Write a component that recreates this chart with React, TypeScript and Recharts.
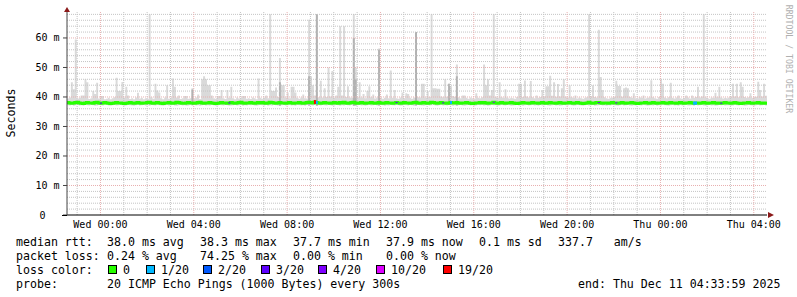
import React from 'react';
import { ComposedChart, Area, Line, XAxis, YAxis, ReferenceLine } from 'recharts';

// 5-minute slots, minutes since Tue 22:34 (chart start); end = Thu 04:34
const SLOT_MIN = 5;

const xTickMinutes = [86, 326, 566, 806, 1046, 1286, 1526, 1766];
const xTickLabels = ['Wed 00:00', 'Wed 04:00', 'Wed 08:00', 'Wed 12:00', 'Wed 16:00', 'Wed 20:00', 'Thu 00:00', 'Thu 04:00'];
const hourMinutes = [26, 86, 146, 206, 266, 326, 386, 446, 506, 566, 626, 686, 746, 806, 866, 926, 986, 1046, 1106, 1166, 1226, 1286, 1346, 1406, 1466, 1526, 1586, 1646, 1706, 1766];
const majorMinutes = [86, 326, 566, 806, 1046, 1286, 1526, 1766];
const yTickValues = [0, 10, 20, 30, 40, 50, 60];
const yTickLabels = ['0', '10 m', '20 m', '30 m', '40 m', '50 m', '60 m'];
const yMinorValues = [2, 4, 6, 8, 12, 14, 16, 18, 22, 24, 26, 28, 32, 34, 36, 38, 42, 44, 46, 48, 52, 54, 56, 58, 62, 64, 66, 68];

// highest ping per slot (ms)
const maxPing = [
  39.5, 39.8, 45, 42.6, 59.5, 39.4, 39.7, 40.5, 40.5, 46, 45, 39.3, 39.6, 42, 41, 44.8, 39.5, 40.3, 40.3, 39.2,
  39.4, 39.7, 39.2, 39.6, 39.9, 46.5, 42, 42, 45.1, 39.8, 43.5, 40.5, 39.3, 39.6, 39.2, 39.8, 41.4, 39.5, 39.7, 39.2,
  39.6, 39.3, 68, 39.9, 39.4, 44.5, 42.2, 41.5, 39.6, 39.2, 39.8, 44, 39.4, 39.7, 46.3, 43.5, 39.8, 40.5, 39.3, 39.6,
  40.3, 40.3, 39.4, 39.6, 43, 39.5, 39.8, 40.8, 39.3, 46, 47, 46, 44, 44, 40.5, 39.6, 39.4, 40.3, 40.3, 42.4,
  39.6, 39.3, 42.4, 39.7, 43.5, 39.6, 39.2, 39.8, 39.5, 39.7, 40.3, 40.3, 39.4, 39.6, 39.3, 39.8, 39.6, 39.2, 46.3, 39.7,
  39.4, 39.8, 40.5, 39.6, 68, 42, 42, 43.2, 40, 53.2, 44, 44, 39.8, 41.5, 39.6, 43.5, 43.5, 41.5, 39.7, 39.4,
  39.8, 40.8, 39.6, 39.5, 66.2, 47, 44, 40.5, 68, 39.9, 45.5, 39.8, 43, 40, 50, 40.2, 48.8, 39.8, 40.5, 43.5,
  64, 40.5, 64, 40, 43.6, 39.8, 39.7, 68, 50, 39.9, 45, 39.8, 41, 39.6, 42, 43.6, 39.9, 40.8, 39.5, 39.8,
  56.4, 39.8, 39.4, 39.7, 40.8, 39.6, 49, 39.7, 42.4, 39.6, 39.4, 39.8, 41.5, 39.6, 41.3, 41, 39.7, 39.4, 39.8, 62,
  39.9, 39.8, 44.5, 44.5, 39.8, 42, 40, 68, 43, 43, 42.8, 42.8, 40.2, 39.9, 46, 40.1, 44.5, 43.6, 40.3, 40.1,
  51, 39.9, 39.6, 40.5, 40.5, 39.7, 39.4, 39.8, 39.6, 39.4, 41.3, 39.7, 39.6, 39.9, 51, 44, 46, 40.5, 42.4, 68,
  40, 39.7, 45, 39.9, 39.7, 42.6, 39.8, 39.5, 39.7, 39.6, 39.4, 40, 44.5, 44.5, 40, 45.6, 40.2, 39.8, 45.4, 39.9,
  39.6, 40.5, 39.7, 40, 42.4, 40.2, 43.6, 43.6, 47.2, 40.4, 45, 40.1, 44.4, 40.2, 43, 46, 40.1, 39.8, 44, 39.9,
  39.7, 40.5, 39.5, 39.8, 39.6, 39.4, 39.7, 39.9, 68, 40.2, 44, 40, 39.8, 62.8, 46.8, 42.4, 39.9, 39.6, 39.4, 39.7,
  39.8, 40, 45.5, 43.7, 43.7, 40.1, 43, 43.2, 43, 40, 39.7, 41.3, 39.6, 39.4, 39.9, 39.7, 40.5, 39.5, 39.7, 39.8,
  45.7, 39.9, 39.6, 39.4, 40, 46, 44.5, 39.8, 39.6, 39.9, 44.8, 39.7, 39.5, 39.8, 40.5, 39.6, 39.4, 39.7, 40.5, 39.8,
  39.5, 40.5, 39.7, 40, 43.5, 39.8, 40.2, 68, 39.9, 39.6, 39.4, 39.8, 39.7, 41.4, 39.9, 43.5, 39.8, 39.5, 39.7, 39.6,
  39.8, 40, 44.5, 40.2, 44.5, 39.9, 45, 43.5, 40, 39.7, 39.9, 41.3, 39.7, 40, 40.1, 45.2, 42.4, 40.2, 44.5, 40.4,
];

// lowest ping per slot (ms)
const minPing = [
  37.2, 37.1, 37.3, 37.0, 37.2, 37.4, 37.1, 37.2, 37.0, 37.3, 37.2, 37.1, 37.4, 37.2, 37.0, 37.1, 37.3, 37.2, 37.1, 37.4,
  37.3, 37.1, 37.0, 37.2, 37.3, 37.1, 37.2, 37.4, 37.2, 37.0, 37.1, 37.3, 37.2, 37.1, 37.0, 37.2, 37.3, 37.1, 37.2, 37.4,
  37.1, 37.2, 37.0, 37.3, 37.2, 37.1, 37.4, 37.2, 37.1, 37.0, 37.2, 37.3, 37.1, 37.2, 37.4, 37.1, 37.0, 37.2, 37.3, 37.1,
  37.2, 37.0, 37.1, 37.3, 37.2, 37.4, 37.1, 37.2, 37.0, 37.2, 37.3, 37.1, 37.2, 37.1, 37.4, 37.2, 37.0, 37.1, 37.3, 37.2,
  37.1, 37.3, 37.2, 37.0, 37.1, 37.2, 37.4, 37.1, 37.2, 37.3, 37.0, 37.2, 37.1, 37.3, 37.2, 37.4, 37.1, 37.0, 37.2, 37.3,
  37.2, 37.1, 37.3, 37.0, 37.2, 37.1, 37.4, 37.2, 37.1, 37.0, 37.2, 37.3, 37.1, 37.2, 37.4, 37.1, 37.2, 37.0, 37.3, 37.2,
  37.1, 37.2, 37.0, 37.3, 37.1, 37.2, 37.1, 37.3, 37.0, 37.2, 37.1, 37.3, 37.2, 37.1, 37.4, 37.2, 37.0, 37.1, 37.3, 37.2,
  37.0, 37.2, 37.1, 37.3, 37.2, 37.1, 37.4, 37.0, 37.1, 37.2, 37.3, 37.1, 37.2, 37.0, 37.2, 37.3, 37.1, 37.2, 37.4, 37.1,
  37.1, 37.3, 37.2, 37.0, 37.2, 37.1, 37.3, 37.2, 37.1, 37.4, 37.2, 37.0, 37.1, 37.3, 37.2, 37.1, 37.4, 37.2, 37.0, 37.1,
  37.3, 37.2, 37.1, 37.0, 37.2, 37.3, 37.1, 37.2, 37.4, 37.1, 37.0, 37.2, 37.3, 37.1, 37.2, 37.1, 37.3, 37.2, 37.0, 37.2,
  37.1, 37.2, 37.4, 37.1, 37.0, 37.2, 37.3, 37.1, 37.2, 37.0, 37.1, 37.3, 37.2, 37.4, 37.1, 37.2, 37.0, 37.1, 37.3, 37.2,
  37.2, 37.0, 37.1, 37.3, 37.2, 37.1, 37.4, 37.2, 37.0, 37.1, 37.2, 37.3, 37.1, 37.2, 37.0, 37.2, 37.4, 37.1, 37.2, 37.3,
  37.1, 37.2, 37.0, 37.3, 37.1, 37.2, 37.4, 37.1, 37.0, 37.2, 37.3, 37.1, 37.2, 37.0, 37.1, 37.3, 37.2, 37.1, 37.4, 37.2,
  37.0, 37.1, 37.3, 37.2, 37.1, 37.0, 37.2, 37.4, 37.1, 37.2, 37.3, 37.0, 37.1, 37.2, 37.3, 37.1, 37.2, 37.0, 37.2, 37.1,
  37.3, 37.2, 37.1, 37.0, 37.2, 37.3, 37.1, 37.2, 37.4, 37.1, 37.0, 37.2, 37.1, 37.3, 37.2, 37.1, 37.4, 37.2, 37.0, 37.1,
  37.2, 37.1, 37.3, 37.0, 37.2, 37.1, 37.4, 37.2, 37.1, 37.0, 37.2, 37.3, 37.1, 37.2, 37.0, 37.3, 37.1, 37.2, 37.4, 37.1,
  37.1, 37.2, 37.0, 37.3, 37.1, 37.2, 37.4, 37.1, 37.0, 37.2, 37.3, 37.1, 37.2, 37.0, 37.1, 37.3, 37.2, 37.4, 37.1, 37.2,
  37.2, 37.0, 37.1, 37.3, 37.2, 37.1, 37.4, 37.2, 37.0, 37.1, 37.3, 37.2, 37.1, 37.0, 37.2, 37.3, 37.1, 37.2, 37.4, 37.1,
];

// median rtt per slot (ms)
const medianRtt = [
  38.1, 38.0, 37.9, 38.0, 38.1, 38.2, 38.0, 37.9, 37.8, 38.0, 38.1, 38.0, 38.0, 37.9, 38.1, 38.2, 38.0, 37.9, 38.0, 38.1,
  38.0, 37.9, 37.8, 37.9, 38.0, 38.1, 38.0, 38.0, 37.9, 37.8, 37.9, 38.0, 38.1, 38.0, 37.9, 38.0, 38.1, 38.0, 37.9, 38.0,
  38.0, 38.1, 38.2, 38.0, 37.9, 38.0, 38.1, 38.0, 37.9, 37.8, 38.0, 38.0, 38.1, 38.0, 37.9, 38.0, 38.2, 38.1, 38.0, 37.9,
  37.9, 38.0, 38.1, 38.0, 38.0, 37.9, 38.0, 38.1, 38.2, 38.0, 37.9, 38.0, 38.0, 38.1, 38.0, 37.9, 37.8, 37.9, 38.0, 38.1,
  38.0, 38.0, 37.9, 38.0, 38.1, 38.0, 37.9, 38.0, 38.1, 38.2, 38.0, 37.9, 38.0, 38.0, 38.1, 38.0, 37.9, 38.0, 38.1, 38.0,
  38.1, 38.0, 37.9, 38.0, 38.2, 38.1, 38.0, 37.9, 38.0, 38.1, 38.0, 38.0, 37.9, 38.0, 38.1, 38.0, 37.9, 38.0, 38.0, 38.1,
  38.0, 37.9, 38.0, 38.1, 38.2, 38.1, 38.0, 38.3, 38.1, 38.0, 37.9, 38.0, 38.1, 38.0, 38.0, 37.9, 38.0, 38.1, 38.0, 37.9,
  38.1, 38.0, 38.2, 38.0, 37.9, 38.0, 38.1, 38.2, 38.0, 37.9, 38.0, 38.1, 38.0, 37.9, 38.0, 38.0, 38.1, 38.0, 37.9, 38.0,
  38.1, 38.0, 37.9, 38.0, 38.1, 38.0, 38.0, 37.9, 38.0, 38.1, 38.0, 37.9, 38.0, 38.1, 38.0, 38.0, 37.9, 38.0, 38.1, 38.2,
  38.0, 37.9, 38.0, 38.1, 38.0, 37.9, 38.0, 38.2, 38.1, 38.0, 37.9, 38.0, 38.1, 38.0, 38.0, 37.9, 38.0, 38.1, 38.0, 38.0,
  38.1, 38.0, 37.9, 38.0, 38.0, 38.1, 38.0, 37.9, 37.8, 37.9, 38.0, 38.0, 38.1, 38.0, 38.1, 38.0, 37.9, 38.0, 38.0, 38.2,
  38.0, 37.9, 38.0, 38.1, 38.0, 37.9, 38.0, 38.0, 38.1, 38.0, 37.9, 37.8, 37.9, 38.0, 38.1, 38.0, 38.0, 37.9, 38.0, 38.1,
  38.0, 38.0, 37.9, 38.0, 38.1, 38.0, 37.9, 38.0, 38.1, 38.0, 38.0, 37.9, 38.0, 38.1, 38.0, 37.9, 38.0, 38.0, 38.1, 38.0,
  37.9, 38.0, 38.1, 38.0, 37.9, 37.8, 37.9, 38.0, 38.2, 38.0, 37.9, 38.0, 38.1, 38.1, 38.0, 37.9, 38.0, 38.0, 37.9, 38.0,
  38.1, 38.0, 38.0, 37.9, 38.0, 38.1, 38.0, 37.9, 38.0, 38.0, 38.1, 38.0, 37.9, 37.8, 37.9, 38.0, 38.0, 38.1, 38.0, 37.9,
  38.0, 38.1, 38.0, 37.9, 38.0, 38.0, 38.1, 38.0, 37.9, 38.0, 38.1, 38.0, 38.0, 37.9, 38.0, 38.1, 38.0, 37.9, 38.0, 38.0,
  38.1, 38.0, 37.9, 38.0, 38.0, 37.9, 38.0, 38.1, 38.0, 37.9, 38.0, 38.0, 38.1, 38.0, 37.9, 38.0, 37.9, 38.0, 38.1, 38.0,
  38.0, 37.9, 38.0, 38.1, 38.0, 37.9, 37.8, 37.9, 38.0, 38.0, 38.1, 38.0, 37.9, 38.0, 38.0, 38.1, 38.0, 37.9, 38.0, 37.9,
];

// darker smoke cores: [slot, ms]
const darkSmoke: [number, number][] = [
  [64, 42.5], [109, 45], [124, 47], [128, 68], [147, 60], [148, 46], [160, 56], [179, 62], [196, 44.5], [200, 47],
];

// loss colours
const lossColors = ['#26ff00', '#00b8ff', '#0059ff', '#5e00ff', '#7e00ff', '#dd00ff', '#ff0000'];
const lossNames = ['0', '1/20', '2/20', '3/20', '4/20', '10/20', '19/20'];
// slots with packet loss: [slot, colour index]
const lossSlots: [number, number][] = [
  [17, 3], [83, 3], [127, 6], [128, 1], [169, 3], [193, 3], [197, 1], [219, 4], [273, 4], [282, 4], [322, 1], [323, 1], [336, 3],
];

const N = maxPing.length;
const lossKeys = lossColors.map((_, i) => `loss${i}`);

const rows = Array.from({ length: N + 1 }, (_, j) => {
  const k = Math.min(j, N - 1);
  const row: any = {
    t: j * SLOT_MIN,
    smoke: [minPing[k], maxPing[k]],
    median: medianRtt[k],
  };
  const dHere = darkSmoke.find((d) => d[0] === j);
  const dPrev = darkSmoke.find((d) => d[0] === j - 1);
  if (dHere) row.dark = [minPing[k], dHere[1]];
  else if (dPrev) row.dark = [minPing[k], dPrev[1]];
  else row.dark = null;
  lossKeys.forEach((key) => (row[key] = null));
  lossSlots.forEach(([s, c]) => {
    if (s === j) row[lossKeys[c]] = medianRtt[s];
  });
  lossSlots.forEach(([s, c]) => {
    if (s === j - 1 && row[lossKeys[c]] == null) row[lossKeys[c]] = medianRtt[s];
  });
  return row;
});

const MONO = '"DejaVu Sans Mono", monospace';

const YTick = (props: any) => {
  const { y, payload } = props;
  const idx = yTickValues.indexOf(payload.value);
  const label = yTickLabels[idx] ?? '';
  const x = payload.value === 0 ? 45.5 : 59.5;
  return (
    <text x={x} y={y} textAnchor="end" dominantBaseline="central" fontFamily={MONO} fontSize={10} fill="#000">
      {label}
    </text>
  );
};

const XTick = (props: any) => {
  const { x, payload } = props;
  const idx = xTickMinutes.indexOf(payload.value);
  return (
    <text x={x} y={224.5} textAnchor="middle" dominantBaseline="central" fontFamily={MONO} fontSize={10} fill="#000">
      {xTickLabels[idx] ?? ''}
    </text>
  );
};

const legendLine1: [number, string][] = [
  [16, 'median rtt:'], [107, '38.0 ms avg'], [200, '38.3 ms max'], [293, '37.7 ms min'], [386, '37.9 ms now'], [479, '0.1 ms sd'], [558, '337.7   am/s'],
];
const legendLine2: [number, string][] = [
  [16, 'packet loss:'], [107, '0.24 % avg'], [200, '74.25 % max'], [293, '0.00 % min'], [386, '0.00 % now'],
];
const lossBoxX = [108, 146, 203, 261, 318, 376, 443];
const legendLine4: [number, string][] = [
  [16, 'probe:'], [107, '20 ICMP Echo Pings (1000 Bytes) every 300s'], [578, 'end: Thu Dec 11 04:33:59 2025'],
];

const txt = (x: number, cy: number, s: string, key: string) => (
  <div
    key={key}
    style={{ position: 'absolute', left: x, top: cy - 7, height: 14, lineHeight: '14px', fontFamily: MONO, fontSize: 11.6, whiteSpace: 'pre', color: '#000' }}
  >
    {s}
  </div>
);

export default function App() {
  return (
    <div style={{ position: 'absolute', left: 0, top: 0, width: 797, height: 297, background: '#fff', overflow: 'hidden' }}>
      <ComposedChart width={797} height={297} data={rows} margin={{ top: 12, right: 30, bottom: 0, left: 0 }}>
        <XAxis
          dataKey="t"
          type="number"
          domain={[0, 1800]}
          ticks={xTickMinutes}
          allowDataOverflow
          height={82}
          tick={<XTick />}
          tickLine={false}
          axisLine={{ stroke: '#000' }}
        />
        <YAxis
          type="number"
          domain={[0, 68.8]}
          ticks={yTickValues}
          allowDataOverflow
          width={67}
          tick={<YTick />}
          tickSize={4}
          tickLine={{ stroke: '#444' }}
          axisLine={{ stroke: '#444' }}
        />
        <Area dataKey="smoke" type="stepAfter" stroke="none" fill="#dadada" fillOpacity={1} isAnimationActive={false} connectNulls={false} />
        <Area dataKey="dark" type="stepAfter" stroke="none" fill="#b2b2b2" fillOpacity={1} isAnimationActive={false} connectNulls={false} />
        {yMinorValues.map((v) => (
          <ReferenceLine key={`hy${v}`} y={v} stroke="#c4c4c4" strokeDasharray="1 1" />
        ))}
        {hourMinutes
          .filter((m) => !majorMinutes.includes(m))
          .map((m) => (
            <ReferenceLine key={`hx${m}`} x={m} stroke="#c4c4c4" strokeDasharray="1 1" />
          ))}
        {yTickValues
          .filter((v) => v > 0)
          .map((v) => (
            <ReferenceLine key={`my${v}`} y={v} stroke="#e8b0b0" strokeDasharray="1 1" />
          ))}
        {majorMinutes.map((m) => (
          <ReferenceLine key={`mx${m}`} x={m} stroke="#e8b0b0" strokeDasharray="1 1" />
        ))}
        <Line dataKey="median" type="stepAfter" stroke={lossColors[0]} strokeWidth={3} dot={false} isAnimationActive={false} />
        {lossKeys.slice(1).map((key, i) => (
          <Line
            key={key}
            dataKey={key}
            type="stepAfter"
            stroke={lossColors[i + 1]}
            strokeWidth={i + 1 === 6 ? 4 : i + 1 === 1 ? 3 : 1}
            dot={false}
            connectNulls={false}
            isAnimationActive={false}
          />
        ))}
      </ComposedChart>

      <svg width={797} height={297} style={{ position: 'absolute', left: 0, top: 0, pointerEvents: 'none' }}>
        <polygon points="67,7 64,12 70,12" fill="#8b1a1a" />
        <polygon points="774,215 768,212 768,218" fill="#8b1a1a" />
        <line x1={62} y1={215.5} x2={67} y2={215.5} stroke="#000" />
        <text
          x={11}
          y={113}
          transform="rotate(-90 11 113)"
          textAnchor="middle"
          dominantBaseline="central"
          fontFamily={MONO}
          fontSize={11.6}
          fill="#000"
        >
          Seconds
        </text>
        <text
          x={788.5}
          y={59}
          transform="rotate(90 788.5 59)"
          textAnchor="middle"
          dominantBaseline="central"
          fontFamily={MONO}
          fontSize={8.2}
          fill="#b0b0b0"
        >
          RRDTOOL / TOBI OETIKER
        </text>
      </svg>

      {legendLine1.map(([x, s], i) => txt(x, 241.5, s, `l1${i}`))}
      {legendLine2.map(([x, s], i) => txt(x, 255.5, s, `l2${i}`))}
      {txt(16, 269.5, 'loss color:', 'l3')}
      {lossColors.map((c, i) => (
        <React.Fragment key={`lb${i}`}>
          <div
            style={{ position: 'absolute', left: lossBoxX[i], top: 265, width: 9, height: 9, boxSizing: 'border-box', border: '1px solid #000', background: c }}
          />
          {txt(lossBoxX[i] + 15, 269.5, lossNames[i], `ln${i}`)}
        </React.Fragment>
      ))}
      {legendLine4.map(([x, s], i) => txt(x, 283.5, s, `l4${i}`))}
    </div>
  );
}
